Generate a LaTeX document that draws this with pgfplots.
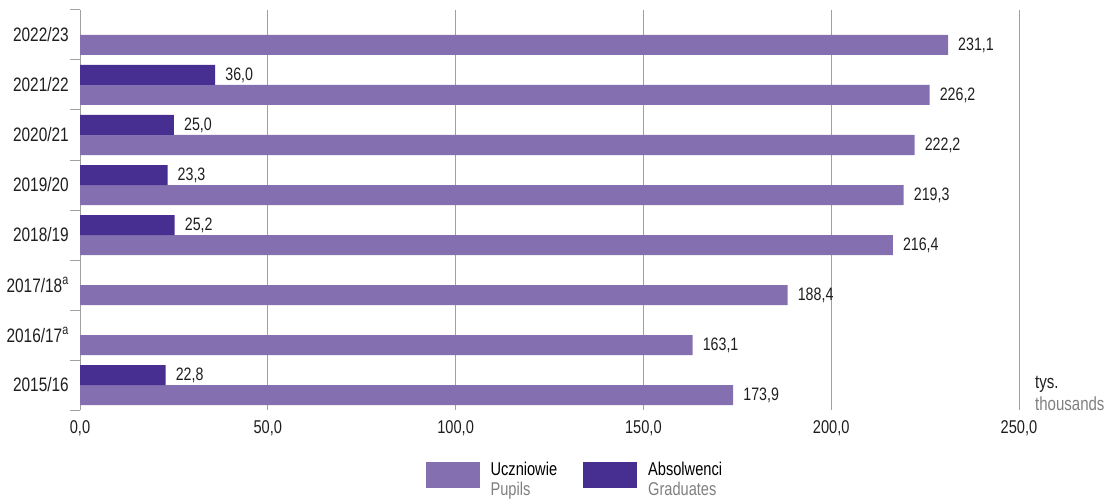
\documentclass[border=0pt]{standalone}
\usepackage{fontspec}
\setmainfont{Liberation Sans}[FakeStretch=0.79]
\usepackage{pgfplots}
\pgfplotsset{compat=1.18}
\definecolor{pupil}{HTML}{8470B0}
\definecolor{grad}{HTML}{472E91}
\definecolor{gridgray}{HTML}{A0A0A0}
\definecolor{txtgray}{HTML}{7F7F7F}
\definecolor{txtdark}{HTML}{1E1E1E}
\begin{document}
\fontsize{18}{22}\selectfont
\begin{tikzpicture}
\path[use as bounding box] (0,0) rectangle (1109pt,499pt);
\begin{axis}[
  at={(80pt,89pt)}, anchor=south west,
  scale only axis, width=939pt, height=400pt,
  clip=false,
  xbar, bar width=20pt,
  xmin=0, xmax=250, ymin=-0.5, ymax=7.5,
  axis lines*=left,
  x axis line style={draw=none},
  y axis line style={gridgray, line width=1pt},
  xtick={0,50,...,250},
  xmajorgrids, major grid style={gridgray, line width=1pt},
  major tick length=0pt,
  ytick={0,...,7},
  yticklabels={2015/16,2016/17\textsuperscript{a},2017/18\textsuperscript{a},2018/19,2019/20,2020/21,2021/22,2022/23},
  minor ytick={-0.5,0.5,...,7.5},
  minor tick length=10pt, tick align=outside,
  minor tick style={gridgray, line width=1pt},
  yticklabel style={font=\fontsize{19.5}{22}\selectfont, text=txtdark, xshift=-5pt},
  xticklabel style={font=\fontsize{18.5}{22}\selectfont, text=txtdark, yshift=-4pt},
  nodes near coords,
  every node near coord/.append style={font=\fontsize{18}{22}\selectfont, text=txtdark, xshift=4pt},
  legend style={at={(0.527,-0.162)}, anchor=center, draw=none, fill=none,
    legend columns=2, font=\fontsize{18.5}{21}\selectfont,
    /tikz/every odd column/.append style={column sep=9pt},
    /tikz/every even column/.append style={column sep=24pt}},
  /pgf/number format/.cd, use comma, fixed, fixed zerofill, precision=1, assume math mode=true
]
\addplot[fill=pupil, draw=none, bar shift=-10pt,
  legend image code/.code={\fill[pupil] (0pt,-13pt) rectangle (54pt,13pt);}]
  coordinates {(173.9,0) (163.1,1) (188.4,2) (216.4,3) (219.3,4) (222.2,5) (226.2,6) (231.1,7)};
\addlegendentry{\begin{tabular}{@{}l@{}}Uczniowie\\[-1.5pt]\textcolor{txtgray}{Pupils}\end{tabular}}
\addplot[fill=grad, draw=none, bar shift=10pt,
  legend image code/.code={\fill[grad] (0pt,-13pt) rectangle (54pt,13pt);}]
  coordinates {(22.8,0) (25.2,3) (23.3,4) (25.0,5) (36.0,6)};
\addlegendentry{\begin{tabular}{@{}l@{}}Absolwenci\\[-1.5pt]\textcolor{txtgray}{Graduates}\end{tabular}}
\node[anchor=base west, text=txtdark, font=\fontsize{19}{21}\selectfont] at (rel axis cs:1,0) [xshift=10pt, yshift=22pt] {tys.};
\node[anchor=base west, text=txtgray, font=\fontsize{19}{21}\selectfont] at (rel axis cs:1,0) [xshift=10pt, yshift=0pt] {thousands};
\end{axis}
\end{tikzpicture}
\end{document}
